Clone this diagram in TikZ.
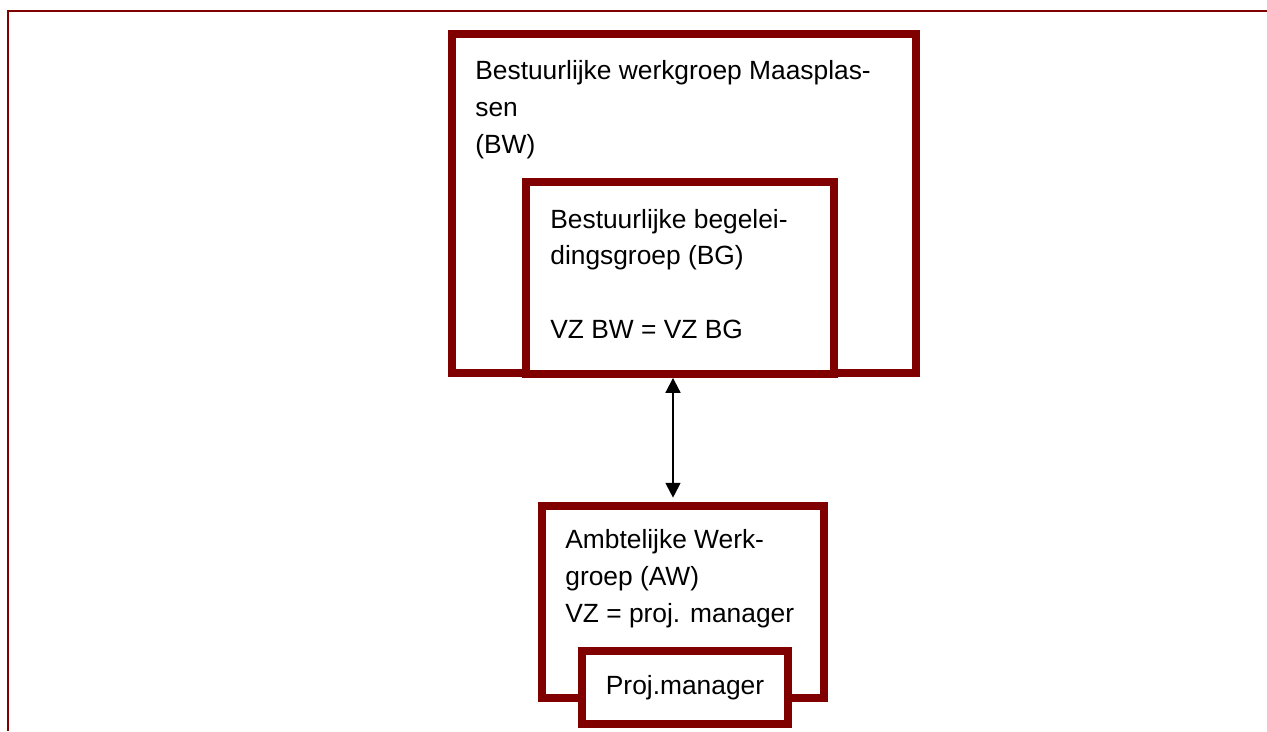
\documentclass[tikz,border=0pt]{standalone}
\usepackage{fontspec}
\setmainfont{Liberation Sans}
\usetikzlibrary{arrows.meta, positioning, calc}
\definecolor{mrn}{HTML}{800000}
\tikzset{
  grp/.style  = {rectangle, draw=mrn, line width=4.5pt, inner sep=0pt},
  wgrp/.style = {grp, fill=white},
  txt/.style  = {inner sep=0pt, align=left, anchor=base west,
                 font=\fontsize{15pt}{20.8pt}\selectfont},
  arr/.style  = {{Triangle[width=8.5pt,length=8.5pt]}-{Triangle[width=8.5pt,length=8.5pt]},
                 line width=1.1pt, black},
  frm/.style  = {draw=mrn, line width=1.3pt},
}
\begin{document}
\begin{tikzpicture}[x=0.02cm, y=-0.02cm]
  \useasboundingbox (0,0) rectangle (1267,731);
  \draw[frm] (8,731) -- (8,11) -- (1267,11);

  % bestuurlijke laag
  \node[grp,  minimum width=9.28cm, minimum height=6.78cm] (bw) at (684,203.5) {};
  \node[wgrp, minimum width=6.16cm, minimum height=3.84cm] (bg) at (680,278) {};
  \node[txt] (bwt) at (475,153) {Bestuurlijke werkgroep Maasplas-\\sen\\(BW)};
  \node[txt] (bgt) at (550,338) {Bestuurlijke begelei-\\dingsgroep (BG)\\[20.8pt]VZ BW = VZ BG};

  % ambtelijke laag
  \node[grp,  minimum width=5.64cm, minimum height=3.84cm] (aw) at (683,602) {};
  \node[wgrp, minimum width=4.12cm, minimum height=1.46cm,
        font=\fontsize{15pt}{20.8pt}\selectfont] (pm) at (685,687.5) {Proj.manager};
  \node[txt] (awt) at (565,622) {Ambtelijke Werk-\\groep (AW)\\VZ = proj. manager};

  \coordinate (ax) at (673,0);
  \draw[arr, shorten >=2.5pt] (bg.south -| ax) -- (aw.north -| ax);
\end{tikzpicture}
\end{document}
